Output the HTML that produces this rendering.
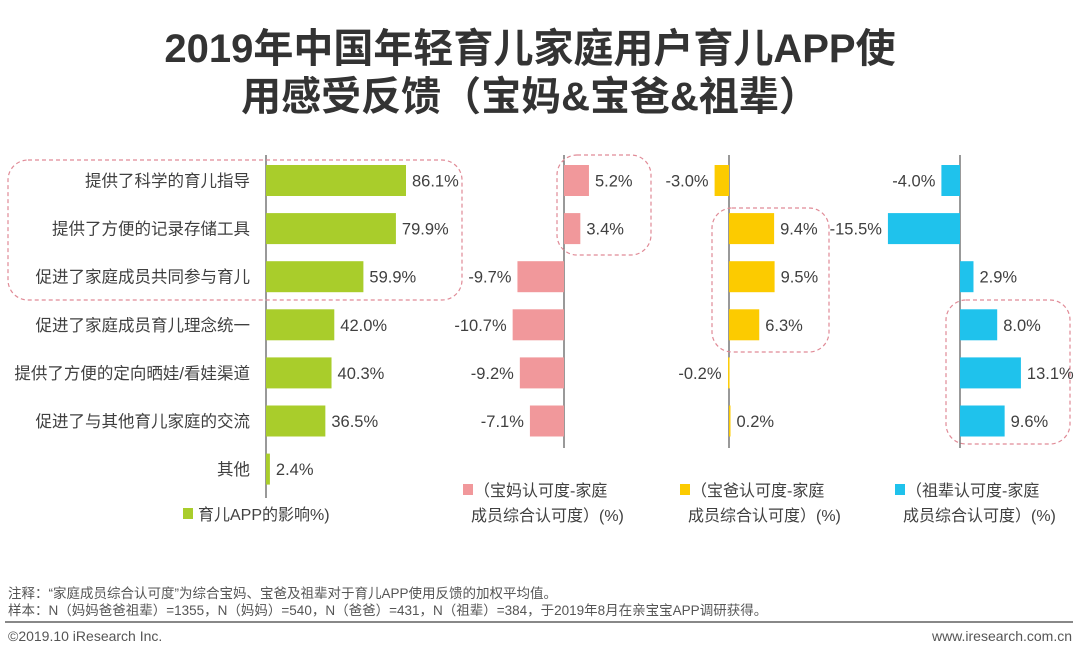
<!DOCTYPE html>
<html><head><meta charset="utf-8"><style>
body{margin:0;width:1080px;height:656px;background:#fff;overflow:hidden;font-family:"Liberation Sans","Noto Sans CJK SC",sans-serif;}
.t{position:absolute;left:0;width:1060px;text-align:center;font-weight:bold;font-size:40px;color:#333;}
.f{position:absolute;font-size:13.5px;color:#555;}
</style></head><body>
<div class="t" style="top:16px">2019年中国年轻育儿家庭用户育儿APP使</div>
<div class="t" style="top:64px">用感受反馈（宝妈&amp;宝爸&amp;祖辈）</div>
<svg id="c" width="1080" height="560" style="position:absolute;left:0;top:0"></svg>
<div class="f" style="left:8px;top:582px">注释：“家庭成员综合认可度”为综合宝妈、宝爸及祖辈对于育儿APP使用反馈的加权平均值。</div>
<div class="f" style="left:8px;top:599px">样本：N（妈妈爸爸祖辈）=1355，N（妈妈）=540，N（爸爸）=431，N（祖辈）=384，于2019年8月在亲宝宝APP调研获得。</div>
<div style="position:absolute;left:5px;top:621px;width:1068px;height:2px;background:#888"></div>
<div class="f" style="left:8px;top:628px;font-size:14px">©2019.10 iResearch Inc.</div>
<div class="f" style="right:8px;top:628px;font-size:14px">www.iresearch.com.cn</div>
<script>
const categories=["提供了科学的育儿指导","提供了方便的记录存储工具","促进了家庭成员共同参与育儿","促进了家庭成员育儿理念统一","提供了方便的定向晒娃/看娃渠道","促进了与其他育儿家庭的交流","其他"];
const impact=[86.1,79.9,59.9,42.0,40.3,36.5,2.4];
const mom=[5.2,3.4,-9.7,-10.7,-9.2,-7.1];
const dad=[-3.0,9.4,9.5,6.3,-0.2,0.2];
const grand=[-4.0,-15.5,2.9,8.0,13.1,9.6];
const svg=document.getElementById('c');const NS='http://www.w3.org/2000/svg';
function mk(t,a,p){const e=document.createElementNS(NS,t);for(const k in a)e.setAttribute(k,a[k]);(p||svg).appendChild(e);return e;}
const rowY=i=>180.5+i*48.1;const bh=31;
function panel(vals,ax,scale,color,name,top,bot){
  const l=mk('line',{x1:ax,x2:ax,y1:top,y2:bot,stroke:'#333','stroke-width':1});
  
  
  vals.forEach((v,i)=>{
    const x=v>=0?ax:ax+v*scale,w=Math.max(Math.abs(v*scale),1.5);
    const r=mk('rect',{x:x,y:rowY(i)-bh/2,width:w,height:bh,fill:color});
    
    
    const t=mk('text',{x:v>=0?ax+w+6:ax-w-6,y:rowY(i)+6,'font-size':16.5,fill:'#404040','text-anchor':v>=0?'start':'end'});
    t.textContent=v.toFixed(1)+'%';
    
    
  });
}
categories.forEach((c,i)=>{
  const t=mk('text',{x:250,y:rowY(i)+6,'font-size':16.5,fill:'#404040','text-anchor':'end'});
  t.textContent=c;
  
  
});
panel(impact,266,1.626,'#a9cd2b','impact',155,498);
panel(mom,564,4.8,'#f1989b','mom',155,448);
panel(dad,729,4.8,'#fccb00','dad',155,448);
panel(grand,960,4.65,'#1fc2ec','grand',155,448);
[[8,160,454,140],[557,155,94,100],[712,208,117,144],[946,300,124,144]].forEach((b,i)=>{
  const r=mk('rect',{x:b[0],y:b[1],width:b[2],height:b[3],rx:20,fill:'none',stroke:'#e08a96','stroke-width':1.2,'stroke-dasharray':'4,3'});
  
  
});
const legends=[[183,508,'#a9cd2b',['育儿APP的影响%)']],[463,484,'#f1989b',['（宝妈认可度-家庭','成员综合认可度）(%)']],[680,484,'#fccb00',['（宝爸认可度-家庭','成员综合认可度）(%)']],[895,484,'#1fc2ec',['（祖辈认可度-家庭','成员综合认可度）(%)']]];
legends.forEach((L,i)=>{
  const r=mk('rect',{x:L[0],y:L[1],width:10,height:11,fill:L[2]});
  
  
  L[3].forEach((s,j)=>{
    const t=mk('text',{x:j==0?L[0]+(i==0?15:11):L[0]+8,y:L[1]+12+j*25,'font-size':16,fill:'#404040'});
    t.textContent=s;
    
    
  });
});
</script>
</body></html>
